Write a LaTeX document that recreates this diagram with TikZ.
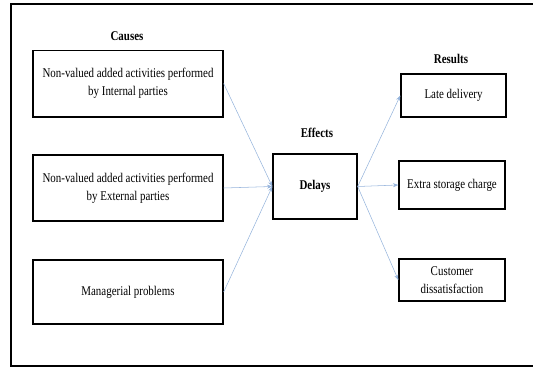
\documentclass[tikz,border=0pt]{standalone}
\usepackage{fontspec}
\setmainfont{Liberation Serif}[FakeStretch=0.82]
\usetikzlibrary{arrows.meta}

\definecolor{linkblue}{RGB}{150,180,220}

\tikzset{
    box/.style={draw, line width=1pt, align=center, inner sep=2pt,
        font=\fontsize{10}{13.5}\selectfont},
    head/.style={font=\bfseries\fontsize{10}{12}\selectfont},
    link/.style={draw=linkblue, line width=0.4pt, -{Stealth[length=4pt,width=3pt]}}
}

\begin{document}
\begin{tikzpicture}[x=0.75pt,y=-0.75pt]
\useasboundingbox (0,0) rectangle (533,368);

% ===== Khung ngoai =====
\draw[line width=1pt] (11,4) rectangle (560,366);

% ===== Tieu de =====
\node[head] (causes) at (127,36) {Causes};
\node[head] (effects) at (317,133) {Effects};
\node[head] (results) at (451,59) {Results};

% ===== Nguyen nhan =====
\node[box, minimum width=142.5pt, minimum height=50pt] (c1) at (128,83.5)
    {Non-valued added activities performed\\by Internal parties};
\node[box, minimum width=142.5pt, minimum height=49.5pt] (c2) at (128,188)
    {Non-valued added activities performed\\by External parties};
\node[box, minimum width=142.5pt, minimum height=48pt] (c3) at (128,292)
    {Managerial problems};

% ===== Tac dong =====
\node[box, minimum width=63pt, minimum height=48.75pt, font=\bfseries\fontsize{10}{12}\selectfont] (delays) at (315,186.5) {Delays};

% ===== Ket qua =====
\node[box, minimum width=78.75pt, minimum height=32.25pt] (r1) at (453.5,95.5) {Late delivery};
\node[box, minimum width=79.5pt, minimum height=36pt] (r2) at (452,185) {Extra storage charge};
\node[box, minimum width=79.5pt, minimum height=31.5pt] (r3) at (452,280) {Customer\\dissatisfaction};

% ===== Mui ten =====
\draw[link] (c1.east) -- (delays.west);
\draw[link] (c2.east) -- (delays.west);
\draw[link] (c3.east) -- (delays.west);

\draw[link] (delays.east) -- (r1.west);
\draw[link] (delays.east) -- (r2.west);
\draw[link] (delays.east) -- (r3.west);

\end{tikzpicture}
\end{document}
